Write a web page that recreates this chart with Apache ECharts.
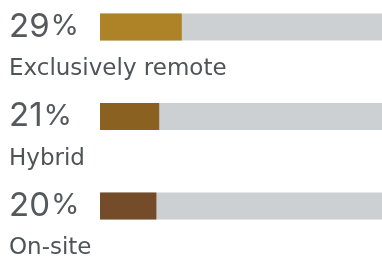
<!DOCTYPE html>
<html>
<head>
<meta charset="utf-8">
<script src="https://cdn.jsdelivr.net/npm/echarts@6/dist/echarts.min.js"></script>
<style>
html, body { margin: 0; padding: 0; background: #fff; }
#chart { width: 382px; height: 260px; }
</style>
</head>
<body>
<div id="chart"></div>
<script>
// 工作方式占比
var categories = ["Exclusively remote", "Hybrid", "On-site"];
var values = [29, 21, 20];
var barColors = ["#ae8328", "#8b6122", "#744c29"];

var textColor = "#54595c";
var numFont = "Inter, 'Noto Sans', sans-serif";
var nameFont = "'DejaVu Sans', sans-serif";

var myChart = echarts.init(document.getElementById("chart"));
myChart.setOption({
    animation: false,
    grid: {
        left: 100,
        right: 0,
        top: 27,
        bottom: 49.5,
    },
    xAxis: {
        type: "value",
        min: 0,
        max: 100,
        show: false,
    },
    yAxis: {
        type: "category",
        inverse: true,
        boundaryGap: false,
        data: categories,
        axisLine: { show: false },
        axisTick: { show: false },
        axisLabel: {
            align: "left",
            verticalAlign: "top",
            margin: 91,
            padding: [31, 0, 0, 0],
            color: "#4f5457",
            fontFamily: nameFont,
            fontSize: 23,
            fontWeight: "normal",
            lineHeight: 23,
        },
    },
    series: [{
        type: "bar",
        barWidth: 27,
        showBackground: true,
        backgroundStyle: {
            color: "#cdd0d3",
        },
        data: values.map(function (v, i) {
            return { value: v, itemStyle: { color: barColors[i] } };
        }),
        label: {
            show: true,
            position: [-91, "50%"],
            align: "left",
            verticalAlign: "middle",
            formatter: function (p) {
                return "{n|" + p.value + "}{p|%}";
            },
            rich: {
                n: {
                    color: textColor,
                    fontFamily: numFont,
                    fontSize: 33,
                    fontWeight: 400,
                    lineHeight: 34,
                },
                p: {
                    color: textColor,
                    fontFamily: numFont,
                    fontSize: 29,
                    fontWeight: 400,
                    lineHeight: 34,
                    padding: [0, 0, 1, 1],
                },
            },
        },
    }],
});
window.addEventListener("resize", function () {
    myChart.resize();
});
</script>
</body>
</html>
